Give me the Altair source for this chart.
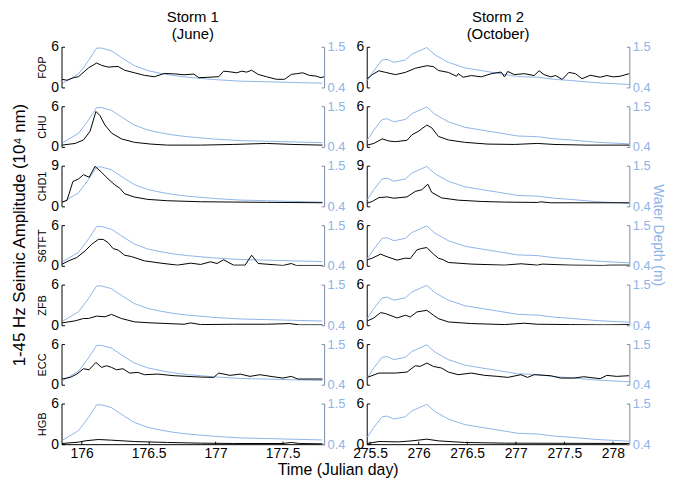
import altair as alt
import pandas as pd

FONT = "Liberation Sans"
BLUE = "#8fb4e8"
RAXIS = "#7a8aa6"

STATIONS = ["FOP", "CHU", "CHD1", "S6TFT", "ZFB", "ECC", "HGB"]
YMAX = [6, 6, 9, 6, 6, 6, 6]

X1_DOMAIN = [175.85, 177.81]
X2_DOMAIN = [275.466, 278.17]
X1_TICKS = [176, 176.5, 177, 177.5]
X2_TICKS = [275.5, 276, 276.5, 277, 277.5, 278]
DEPTH_TICKS = [0.4, 1.5]

# Water depth (m), storm 1 and storm 2
DEP1_t = [175.861, 175.977, 176.051, 176.112, 176.149, 176.223, 176.297, 176.393, 176.494,
          176.592, 176.688, 176.789, 176.984, 177.183, 177.380, 177.575, 177.796]
DEP1_d = [0.515, 0.767, 1.124, 1.465, 1.465, 1.39, 1.21, 0.99, 0.856,
          0.78, 0.72, 0.676, 0.614, 0.57, 0.553, 0.534, 0.515]
DEP2_t = [275.472, 275.540, 275.625, 275.676, 275.745, 275.864, 275.931, 276.084, 276.170,
          276.306, 276.476, 276.646, 276.816, 277.020, 277.224, 277.395, 277.564, 277.837, 278.170]
DEP2_d = [0.588, 0.856, 1.143, 1.16, 1.08, 1.143, 1.30, 1.48, 1.28,
          1.08, 0.93, 0.856, 0.784, 0.695, 0.676, 0.62, 0.588, 0.526, 0.48]

# Seismic amplitude (10^4 nm), storm 1
FOP1_t = [175.854, 175.891, 175.94, 175.977, 176.051, 176.112, 176.149, 176.198, 176.272, 176.321,
          176.395, 176.469, 176.543, 176.617, 176.691, 176.765, 176.838, 176.875, 176.937, 177.023,
          177.06, 177.109, 177.158, 177.195, 177.232, 177.269, 177.318, 177.38, 177.454, 177.515,
          177.565, 177.602, 177.651, 177.7, 177.749, 177.786, 177.81]
FOP1_a = [1.2, 1.06, 1.44, 1.58, 2.88, 3.6, 3.26, 3.0, 3.1, 2.54,
          2.16, 1.78, 1.58, 2.06, 2.0, 1.87, 1.97, 1.44, 1.49, 1.58,
          2.4, 2.3, 2.16, 2.4, 2.26, 2.54, 1.92, 1.58, 1.2, 1.2,
          1.92, 2.02, 2.16, 1.78, 1.68, 1.44, 1.58]
CHU1_t = [175.854, 175.952, 176.014, 176.063, 176.107, 176.137, 176.174, 176.223, 176.297, 176.395,
          176.518, 176.642, 176.888, 177.134, 177.380, 177.577, 177.798]
CHU1_a = [0.26, 0.51, 1.03, 2.31, 5.23, 4.62, 3.23, 2.05, 1.18, 0.67,
          0.41, 0.26, 0.26, 0.36, 0.51, 0.36, 0.26]
CHD11_t = [175.854, 175.891, 175.935, 175.977, 176.014, 176.056, 176.100, 176.149, 176.198, 176.248,
           176.285, 176.321, 176.395, 176.494, 176.642, 176.888, 177.134, 177.380, 177.798]
CHD11_a = [0.95, 1.32, 5.49, 6.07, 7.02, 6.44, 8.85, 7.54, 6.07, 4.76,
           4.02, 2.78, 2.05, 1.54, 1.24, 1.02, 0.95, 0.88, 0.8]
S6TFT1_t = [175.854, 175.903, 175.964, 176.026, 176.075, 176.125, 176.161, 176.198, 176.235, 176.272,
            176.321, 176.371, 176.469, 176.592, 176.716, 176.814, 176.888, 176.962, 177.011, 177.060,
            177.134, 177.220, 177.269, 177.318, 177.380, 177.503, 177.565, 177.602, 177.798]
S6TFT1_a = [0.24, 0.73, 1.22, 2.2, 3.17, 3.9, 3.9, 3.41, 2.54, 2.34,
            1.56, 1.37, 0.73, 0.39, 0.1, 0.39, 0.2, 0.59, 0.34, 0.88,
            0.1, 0.1, 1.56, 0.34, 0.24, 0.05, 0.34, 0.05, 0.05]
ZFB1_t = [175.854, 175.952, 176.014, 176.051, 176.112, 176.174, 176.223, 176.297, 176.395, 176.518,
          176.765, 176.814, 176.888, 177.134, 177.380, 177.552, 177.626, 177.798]
ZFB1_a = [0.35, 0.65, 1.0, 1.0, 1.35, 1.25, 1.6, 1.0, 0.5, 0.35,
          0.15, 0.35, 0.1, 0.15, 0.15, 0.25, 0.05, 0.05]
ECC1_t = [175.854, 175.915, 175.964, 176.014, 176.056, 176.107, 176.149, 176.186, 176.223, 176.260,
          176.309, 176.358, 176.420, 176.469, 176.568, 176.691, 176.888, 176.986, 177.023, 177.109,
          177.183, 177.257, 177.331, 177.429, 177.503, 177.565, 177.614, 177.798]
ECC1_a = [0.84, 1.08, 1.57, 2.36, 2.21, 3.3, 2.56, 2.8, 2.56, 2.21,
          2.36, 1.72, 1.82, 1.48, 1.57, 1.33, 1.13, 1.08, 1.72, 1.38,
          1.57, 1.23, 1.48, 1.18, 0.98, 1.23, 0.84, 0.84]
HGB1_t = [175.854, 175.977, 176.026, 176.125, 176.223, 176.395, 176.642, 176.888, 177.134, 177.503,
          177.565, 177.626, 177.798]
HGB1_a = [0.1, 0.3, 0.49, 0.69, 0.59, 0.39, 0.25, 0.15, 0.1, 0.1,
          0.25, 0.1, 0.05]

# Seismic amplitude (10^4 nm), storm 2
FOP2_t = [275.472, 275.523, 275.591, 275.66, 275.762, 275.864, 275.966, 276.085, 276.153, 276.204,
          276.306, 276.391, 276.408, 276.459, 276.544, 276.646, 276.748, 276.85, 276.884, 276.918,
          276.986, 277.088, 277.19, 277.241, 277.292, 277.36, 277.411, 277.479, 277.547, 277.615,
          277.683, 277.768, 277.87, 277.938, 278.006, 278.074, 278.169]
FOP2_a = [1.28, 1.89, 2.46, 2.22, 1.89, 2.22, 2.83, 3.21, 3.07, 2.5,
          2.22, 1.65, 2.03, 1.51, 1.75, 1.56, 2.03, 2.27, 1.56, 2.36,
          1.89, 2.03, 1.75, 2.46, 1.89, 1.56, 1.75, 1.18, 2.22, 2.03,
          1.28, 1.8, 1.51, 1.75, 1.56, 1.65, 2.03]
CHU2_t = [275.472, 275.540, 275.626, 275.694, 275.762, 275.881, 275.932, 275.999, 276.085, 276.135,
          276.204, 276.306, 276.475, 276.714, 276.986, 277.224, 277.394, 277.734, 278.169]
CHU2_a = [0.26, 0.51, 1.18, 0.87, 0.77, 0.97, 1.79, 2.31, 3.23, 2.82,
          1.54, 1.03, 0.67, 0.41, 0.36, 0.51, 0.36, 0.26, 0.26]
CHD12_t = [275.472, 275.523, 275.591, 275.677, 275.745, 275.881, 275.966, 276.033, 276.095, 276.135,
           276.237, 276.408, 276.646, 276.884, 277.224, 277.258, 277.360, 278.169]
CHD12_a = [0.72, 1.08, 1.94, 2.09, 1.8, 2.09, 3.31, 3.67, 4.9, 3.1,
           1.87, 1.37, 1.08, 0.94, 0.86, 1.0, 0.79, 0.79]
S6TFT2_t = [275.472, 275.523, 275.608, 275.677, 275.779, 275.864, 275.915, 275.983, 276.033, 276.085,
            276.153, 276.204, 276.254, 276.306, 276.544, 276.884, 277.054, 277.224, 277.275, 277.564,
            277.904, 277.972, 278.169]
S6TFT2_a = [0.89, 1.13, 1.72, 1.33, 0.84, 1.13, 1.08, 2.36, 2.56, 2.7,
            1.72, 1.13, 0.89, 0.49, 0.25, 0.1, 0.3, 0.1, 0.25, 0.1,
            0.05, 0.1, 0.1]
ZFB2_t = [275.472, 275.540, 275.608, 275.660, 275.779, 275.864, 275.915, 275.983, 276.085, 276.153,
          276.204, 276.306, 276.544, 276.884, 277.088, 277.224, 277.564, 277.904, 278.169]
ZFB2_a = [0.64, 1.08, 1.87, 1.72, 1.08, 1.48, 1.23, 1.97, 2.21, 1.48,
          0.98, 0.49, 0.25, 0.1, 0.3, 0.15, 0.1, 0.05, 0.1]
ECC2_t = [275.472, 275.591, 275.762, 275.881, 275.966, 276.016, 276.085, 276.153, 276.237, 276.306,
          276.408, 276.544, 276.680, 276.816, 276.918, 277.054, 277.122, 277.190, 277.360, 277.462,
          277.598, 277.700, 277.870, 277.938, 278.040, 278.169]
ECC2_a = [1.08, 1.72, 1.72, 1.87, 2.8, 2.7, 3.2, 2.7, 2.46, 1.87,
          1.48, 1.72, 1.38, 1.23, 1.08, 1.48, 1.08, 1.48, 1.33, 0.98,
          0.98, 1.18, 0.89, 1.38, 1.23, 1.33]
HGB2_t = [275.472, 275.591, 275.796, 275.932, 276.085, 276.204, 276.475, 276.884, 278.169]
HGB2_a = [0.1, 0.39, 0.34, 0.49, 0.74, 0.49, 0.25, 0.15, 0.1]

STORM1 = [(FOP1_t, FOP1_a), (CHU1_t, CHU1_a), (CHD11_t, CHD11_a), (S6TFT1_t, S6TFT1_a),
          (ZFB1_t, ZFB1_a), (ECC1_t, ECC1_a), (HGB1_t, HGB1_a)]
STORM2 = [(FOP2_t, FOP2_a), (CHU2_t, CHU2_a), (CHD12_t, CHD12_a), (S6TFT2_t, S6TFT2_a),
          (ZFB2_t, ZFB2_a), (ECC2_t, ECC2_a), (HGB2_t, HGB2_a)]

INWARD = alt.ExprRef(expr="-3")
W, H = 265, 41


def panel(name, t, a, dt, dd, xdom, xticks, ymax, bottom, first_col, top_title):
    amp_df = pd.DataFrame({"day": t, "amp": a})
    dep_df = pd.DataFrame({"day": dt, "depth": dd})
    xscale = alt.Scale(domain=xdom, nice=False, zero=False)
    if bottom:
        xaxis = alt.Axis(values=xticks, title=None, format="~f", grid=False,
                         domainColor="#000000", tickColor="#000000", tickSize=INWARD,
                         labelPadding=5, labelFontSize=14, labelColor="#000000",
                         labelFlush=False)
    else:
        xaxis = None
    left_axis = alt.Axis(orient="left", values=[0, ymax], grid=False,
                         title=name if first_col else None,
                         titleFontSize=11, titleFontWeight="normal", titleColor="#000000",
                         titlePadding=3,
                         domainColor="#000000", tickColor="#000000", tickSize=INWARD,
                         labelPadding=6, labelFontSize=14, labelColor="#000000")
    right_axis = alt.Axis(orient="right", values=DEPTH_TICKS, format=".1f", grid=False, title=None,
                          domainColor=RAXIS, tickColor=RAXIS, tickSize=INWARD,
                          labelPadding=6, labelFontSize=13, labelColor=BLUE)
    dep = alt.Chart(dep_df).mark_line(color=BLUE, strokeWidth=1, clip=True).encode(
        x=alt.X("day:Q", scale=xscale, axis=xaxis),
        y=alt.Y("depth:Q", scale=alt.Scale(domain=[0.4, 1.5], nice=False, zero=False), axis=right_axis),
    )
    amp = alt.Chart(amp_df).mark_line(color="#000000", strokeWidth=1, clip=True).encode(
        x=alt.X("day:Q", scale=xscale, axis=xaxis),
        y=alt.Y("amp:Q", scale=alt.Scale(domain=[0, ymax], nice=False, zero=False), axis=left_axis),
    )
    ch = alt.layer(dep, amp).resolve_scale(y="independent").properties(width=W, height=H)
    if top_title:
        ch = ch.properties(title=alt.TitleParams(top_title, fontSize=15, fontWeight="normal",
                                                 lineHeight=17, anchor="middle", offset=-2,
                                                 frame="group", color="#000000"))
    return ch


panels = []
for i, name in enumerate(STATIONS):
    t1, a1 = STORM1[i]
    t2, a2 = STORM2[i]
    bottom = i == len(STATIONS) - 1
    panels.append(panel(name, t1, a1, DEP1_t, DEP1_d, X1_DOMAIN, X1_TICKS, YMAX[i], bottom, True,
                        ["Storm 1", "(June)"] if i == 0 else None))
    panels.append(panel(name, t2, a2, DEP2_t, DEP2_d, X2_DOMAIN, X2_TICKS, YMAX[i], bottom, False,
                        ["Storm 2", "(October)"] if i == 0 else None))

grid = alt.concat(*panels, columns=2, spacing={"row": 19, "column": 43}, bounds="flush")

w1 = alt.vconcat(grid).properties(
    title=alt.TitleParams("1-45 Hz Seimic Amplitude (10⁴ nm)", orient="left", anchor="middle",
                          fontSize=17, fontWeight="normal", color="#000000", offset=8))
w2 = alt.vconcat(w1).properties(
    title=alt.TitleParams("Water Depth (m)", orient="right", anchor="middle",
                          fontSize=14, fontWeight="normal", color=BLUE, offset=1))
chart = alt.vconcat(w2).properties(
    title=alt.TitleParams("Time (Julian day)", orient="bottom", anchor="middle",
                          fontSize=16, fontWeight="normal", color="#000000", offset=2),
    padding={"left": 3, "top": 0, "right": 0, "bottom": 0},
).configure(font=FONT).configure_view(stroke=None).configure_axis(grid=False)

chart.save("out.html", embed_options={"renderer": "svg", "actions": False})
